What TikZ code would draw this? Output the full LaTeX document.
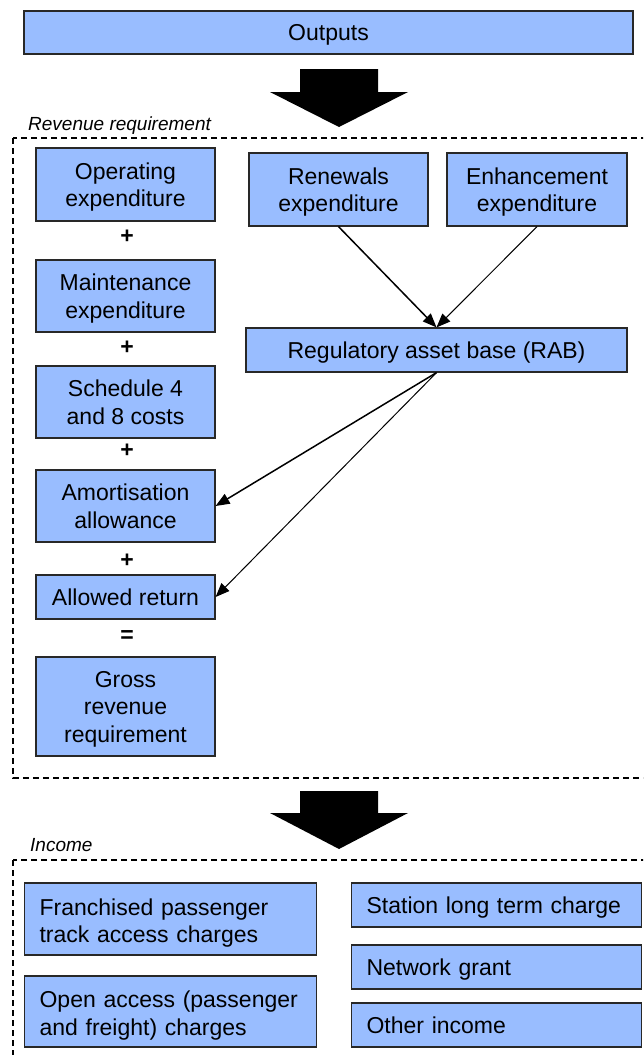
\documentclass[tikz,border=0pt]{standalone}
\usepackage{fontspec}
\setmainfont{Liberation Sans}
\usepackage{tikz}
\usetikzlibrary{arrows.meta,positioning}
\definecolor{boxblue}{RGB}{153,189,255}
\definecolor{boxline}{RGB}{40,40,40}

\begin{document}
\begin{tikzpicture}[x=1pt,y=-1pt,font=\fontsize{23}{27.5}\selectfont,
      bx/.style={draw=boxline,line width=1.2pt,fill=boxblue,inner sep=0pt,text depth=0pt,align=center},
      lbx/.style={draw=boxline,line width=1.2pt,fill=boxblue,inner ysep=0pt,inner xsep=15pt,
                  align=left,anchor=west,text width=260pt,text depth=0pt},
      lbxx/.style={lbx,text width=262pt,text height=25pt,text depth=},
      op/.style={font=\fontsize{23}{27.5}\selectfont\bfseries,inner sep=0pt},
      grp/.style={draw=black,line width=1.4pt,dash pattern=on 6pt off 4pt},
      lbl/.style={font=\fontsize{19}{23}\selectfont\itshape,anchor=base west,inner sep=0pt},
      fl/.style={-{Triangle[length=14pt,width=11pt]},line width=1.5pt},
      fln/.style={-{Triangle[length=14pt,width=11pt]},line width=1pt}]
    \path[use as bounding box,clip] (0,0) rectangle (643,1055);
    % top
    \node[bx,minimum width=609pt,minimum height=43pt] (outputs) at (328.5,32.5) {Outputs};
    \fill (300,69) -- (378,69) -- (378,92) -- (408,92) -- (339,127) -- (270,92) -- (300,92) -- cycle;
    % revenue requirement
    \draw[grp] (13,138) rectangle (660,778);
    \node[lbl] (revlbl) at (28,130) {Revenue requirement};
    \node[bx,minimum width=179pt,minimum height=73pt] (opex)    at (125.5,184.5) {Operating\\expenditure};
    \node[op] (plus1) at (127,237) {+};
    \node[bx,minimum width=179pt,minimum height=72pt] (maint)   at (125.5,296)   {Maintenance\\expenditure};
    \node[op] (plus2) at (127,348) {+};
    \node[bx,minimum width=179pt,minimum height=72pt] (sched)   at (125.5,402)   {Schedule 4\\and 8 costs};
    \node[op] (plus3) at (127,451) {+};
    \node[bx,minimum width=179pt,minimum height=72pt] (amort)   at (125.5,506)   {Amortisation\\allowance};
    \node[op] (plus4) at (127,561) {+};
    \node[bx,minimum width=179pt,minimum height=44pt] (allowed) at (125.5,597)   {Allowed return};
    \node[op] (equal) at (127,637) {=};
    \node[bx,minimum width=179pt,minimum height=99pt] (gross)   at (125.5,706.5) {Gross\\revenue\\requirement};
    \node[bx,minimum width=179pt,minimum height=73pt] (renew)   at (338.5,189.5) {Renewals\\expenditure};
    \node[bx,minimum width=180pt,minimum height=73pt] (enhance) at (537,189.5)   {Enhancement\\expenditure};
    \node[bx,minimum width=381pt,minimum height=44pt] (rab)     at (436.5,350)   {Regulatory asset base (RAB)};
    \draw[fl]  (renew.south)   -- (rab.north);
    \draw[fln] (enhance.south) -- (rab.north);
    \draw[fl]  (rab.south) -- (amort.east);
    \draw[fln] (rab.south) -- (allowed.east);
    % income
    \fill (300,791) -- (378,791) -- (378,813) -- (408,813) -- (339,849) -- (270,813) -- (300,813) -- cycle;
    \draw[grp] (13,860) rectangle (660,1080);
    \node[lbl] (inclbl) at (30,851) {Income};
    \node[lbxx,minimum height=72pt] (franch)   at (24,919)    {Franchised passenger\\track access charges};
    \node[lbxx,minimum height=71pt] (openacc)  at (24,1011.5) {Open access (passenger\\and freight) charges};
    \node[lbx,minimum height=44pt]  (station)  at (351,905)   {Station long term charge};
    \node[lbx,minimum height=44pt]  (netgrant) at (351,967)   {Network grant};
    \node[lbx,minimum height=44pt]  (other)    at (351,1025)  {Other income};
  \end{tikzpicture}
\end{document}
